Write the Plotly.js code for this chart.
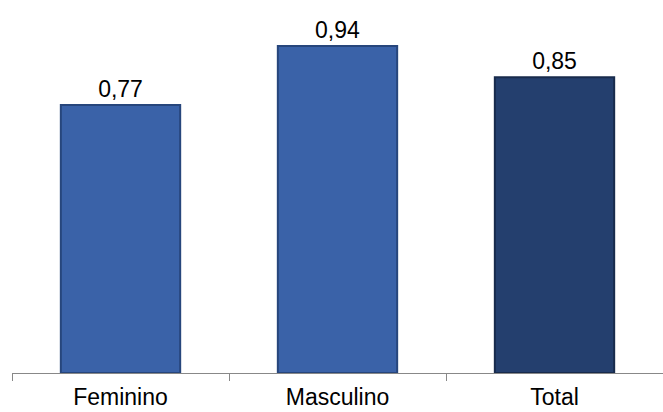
<!DOCTYPE html>
<html>
<head>
<meta charset="utf-8">
<script src="https://cdn.plot.ly/plotly-3.0.1.min.js"></script>
<style>html,body{margin:0;padding:0;background:#fff;}</style>
</head>
<body>
<div id="chart" style="width:663px;height:412px;"></div>
<script>
const categories = ["Feminino", "Masculino", "Total"];
const values = [0.77, 0.94, 0.85];
const barColors = ["#3A62A8", "#3A62A8", "#243F6E"];
const edgeColors = ["#27467C", "#27467C", "#182B4C"];

const trace = {
  type: "bar",
  x: categories,
  y: values,
  marker: { color: barColors, line: { color: edgeColors, width: 2 } },
  texttemplate: "%{y:.2f}",
  textposition: "outside",
  constraintext: "none",
  textfont: { family: "'Liberation Sans', Arial, sans-serif", size: 23, color: "#000" },
  cliponaxis: false,
  hoverinfo: "none"
};

const layout = {
  width: 663, height: 412,
  margin: { l: 12, r: 0, t: 25, b: 39 },
  separators: ",.",
  bargap: 0.45,
  showlegend: false,
  paper_bgcolor: "#fff",
  plot_bgcolor: "#fff",
  xaxis: {
    showline: true, linecolor: "#888", linewidth: 1,
    ticks: "outside", tickson: "boundaries", ticklen: 7, tickcolor: "#888",
    ticklabelstandoff: 3,
    tickfont: { family: "'Liberation Sans', Arial, sans-serif", size: 23, color: "#000" },
    showgrid: false, zeroline: false
  },
  yaxis: {
    range: [0, 1], visible: false, showgrid: false, zeroline: false
  }
};

Plotly.newPlot("chart", [trace], layout, { staticPlot: true });
</script>
</body>
</html>
